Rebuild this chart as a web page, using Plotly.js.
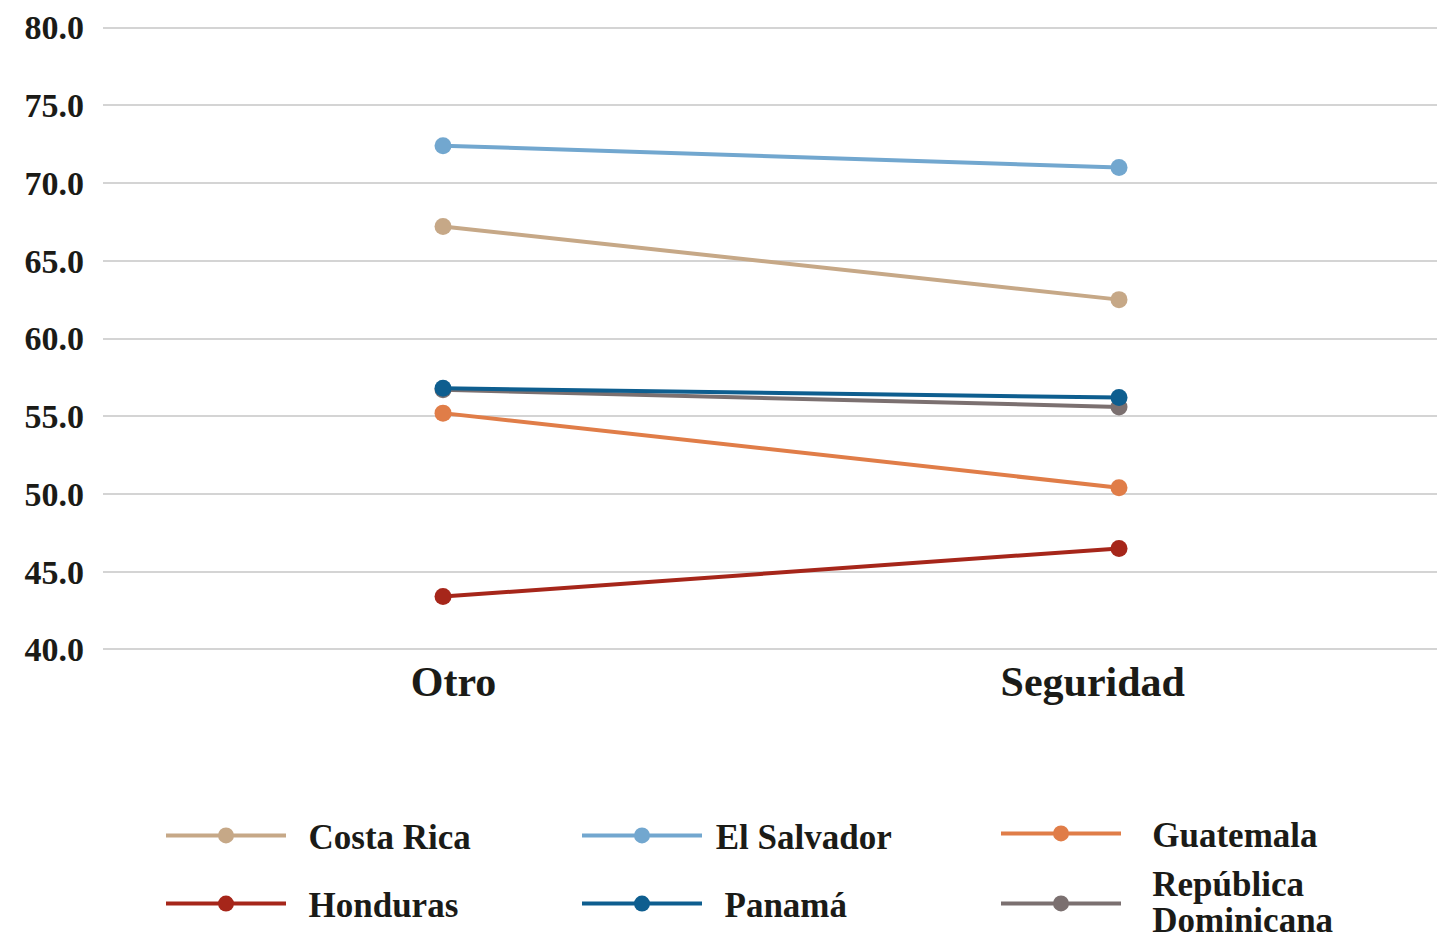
<!DOCTYPE html>
<html>
<head>
<meta charset="utf-8">
<script src="https://cdn.plot.ly/plotly-3.0.1.min.js"></script>
<style>
  html, body { margin: 0; padding: 0; background: #ffffff; }
  #chart { width: 1437px; height: 942px; }
</style>
</head>
<body>
<div id="chart"></div>
<script>
// ---- data ----
var categories = ["Otro", "Seguridad"];
var categoryLabels = ["\u00a0\u00a0Otro", "Seguridad\u00a0\u00a0\u00a0\u00a0\u00a0"];
var costaRica = [67.2, 62.5];
var elSalvador = [72.4, 71.0];
var guatemala = [55.2, 50.4];
var honduras = [43.4, 46.5];
var panama = [56.8, 56.2];
var repDominicana = [56.7, 55.6];
var yTickVals = [40, 45, 50, 55, 60, 65, 70, 75, 80];
var yTickText = ["40.0", "45.0", "50.0", "55.0", "60.0", "65.0", "70.0", "75.0", "80.0"];

var FONT = "'Liberation Serif', 'DejaVu Serif', serif";
var TEXT = "#1b1b17";
var GRID = "#D4D4D4";

function span(t) { return '<span style="font-size:35px">' + t + '</span>'; }

function series(name, label, values, color, legendId) {
  return {
    type: "scatter",
    mode: "lines+markers",
    name: label,
    x: categories,
    y: values,
    line: { color: color, width: 4 },
    marker: { color: color, size: 17 },
    legend: legendId,
    hovertemplate: name + ": %{y:.1f}<extra></extra>"
  };
}

var traces = [
  series("Costa Rica", "\u00a0\u00a0Costa Rica", costaRica, "#C6A887", "legend"),
  series("El Salvador", "\u00a0El Salvador", elSalvador, "#72A7CF", "legend2"),
  series("Guatemala", "\u00a0\u00a0\u00a0Guatemala", guatemala, "#E07D48", "legend3"),
  series("Honduras", "\u00a0\u00a0Honduras", honduras, "#A6261A", "legend4"),
  series("República Dominicana", span("\u00a0\u00a0\u00a0República") + "<br>" + span("\u00a0\u00a0\u00a0Dominicana"), repDominicana, "#7B7070", "legend6"),
  series("Panamá", "\u00a0\u00a0Panamá", panama, "#0E5E8F", "legend5")
];

// pixel frame of the plotting area (80 at y=28, 40 at y=649)
var yLo = 39.9, yHi = 80.1;
var plotL = 103, plotR = 1437;
var pxPerUnit = (649 - 28) / 40;
var plotT = 28 - (yHi - 80) * pxPerUnit;
var plotB = 649 + (40 - yLo) * pxPerUnit;
function px2x(p) { return (p - plotL) / (plotR - plotL); }
function px2y(p) { return (plotB - p) / (plotB - plotT); }

function legendAt(xpx, ypx, size) {
  return {
    x: px2x(xpx), y: px2y(ypx),
    xanchor: "left", yanchor: "middle",
    bgcolor: "rgba(0,0,0,0)",
    itemwidth: 120,
    itemsizing: "trace",
    itemclick: false, itemdoubleclick: false,
    font: { family: FONT, size: size || 35, color: TEXT, weight: "bold" }
  };
}

var layout = {
  width: 1437,
  height: 942,
  paper_bgcolor: "#ffffff",
  plot_bgcolor: "#ffffff",
  margin: { l: plotL, r: 1437 - plotR, t: plotT, b: 942 - plotB, autoexpand: false },
  showlegend: true,
  font: { family: FONT, color: TEXT },
  xaxis: {
    type: "category",
    range: [-0.503, 1.4704],
    tickmode: "array",
    tickvals: categories,
    ticktext: categoryLabels,
    showgrid: false,
    zeroline: false,
    showline: false,
    ticks: "",
    ticklabelstandoff: 2,
    tickfont: { family: FONT, size: 42, color: TEXT, weight: "bold" },
    fixedrange: true
  },
  yaxis: {
    range: [yLo, yHi],
    tickmode: "array",
    tickvals: yTickVals,
    ticktext: yTickText,
    showgrid: true,
    gridcolor: GRID,
    gridwidth: 1.5,
    zeroline: false,
    showline: false,
    ticks: "",
    ticklabelstandoff: 18,
    tickfont: { family: FONT, size: 34, color: TEXT, weight: "bold" },
    fixedrange: true
  },
  legend: legendAt(161, 835),
  legend2: legendAt(577, 835),
  legend3: legendAt(996, 833),
  legend4: legendAt(161, 903),
  legend5: legendAt(577, 903),
  legend6: legendAt(996, 903, 27)
};

Plotly.newPlot("chart", traces, layout, { displayModeBar: false, responsive: false });
</script>
</body>
</html>
